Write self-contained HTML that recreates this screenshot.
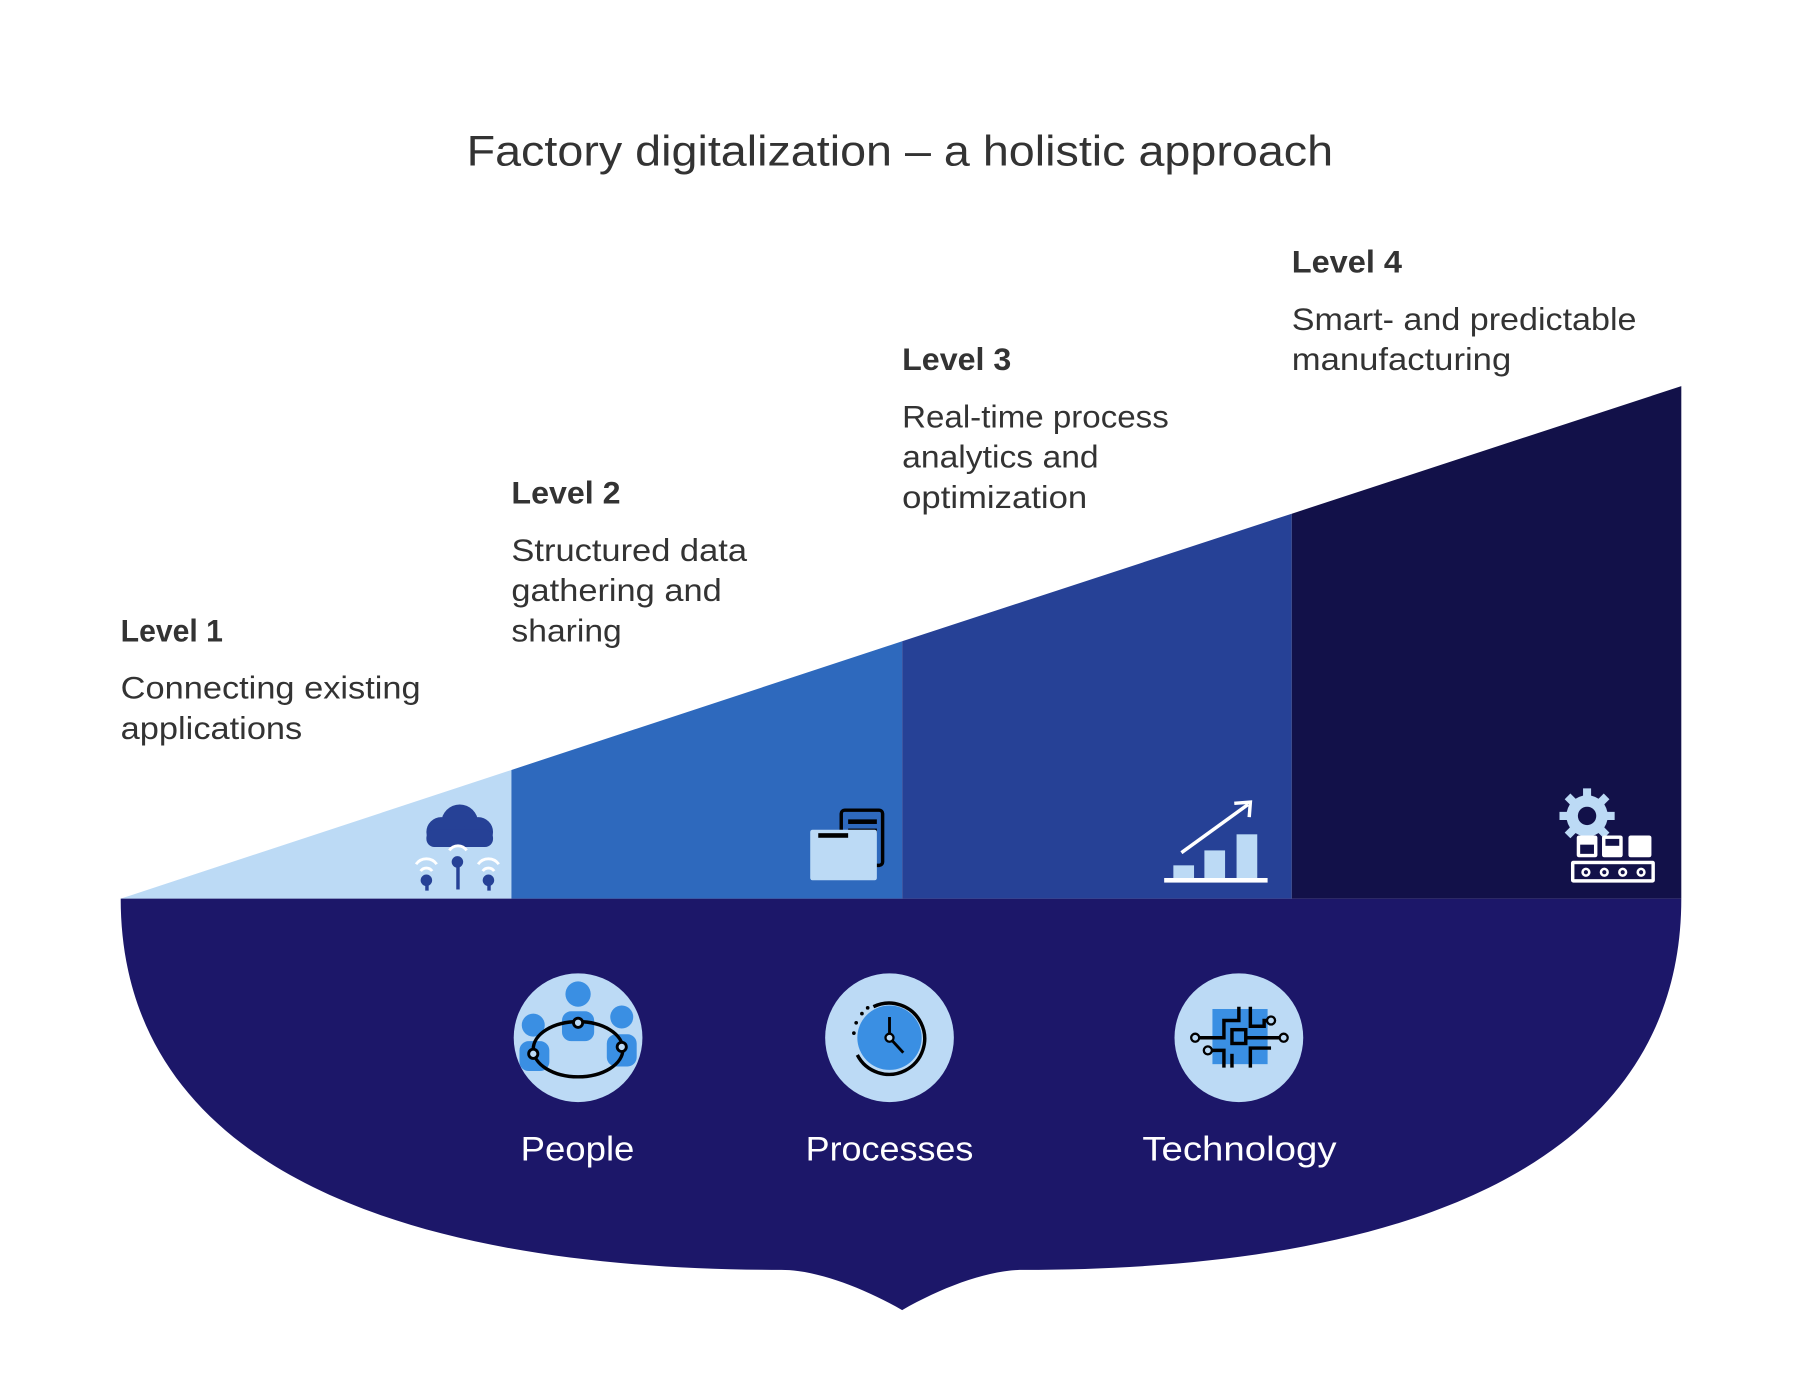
<!DOCTYPE html>
<html><head><meta charset="utf-8"><style>
html,body{margin:0;padding:0;background:#fff;width:1802px;height:1398px;overflow:hidden}
svg{display:block}
text{font-family:"Liberation Sans",sans-serif}
</style></head><body>
<svg width="1802" height="1398" viewBox="0 0 1568 1216.5" xmlns="http://www.w3.org/2000/svg">
<text x="406" y="144" font-size="37" fill="#333" textLength="754" lengthAdjust="spacingAndGlyphs">Factory digitalization – a holistic approach</text>

<polygon points="105,782 445,670 445,782" fill="#bcdaf5"/>
<polygon points="445,670 785,558 785,782 445,782" fill="#2e69bd"/>
<polygon points="785,558 1124,447 1124,782 785,782" fill="#264196"/>
<polygon points="1124,447 1463,336 1463,782 1124,782" fill="#121149"/>

<path d="M105 782 H1463 C1463 1000 1250 1105 890 1105 C860 1105 820 1120 785 1140 C750 1120 710 1105 680 1105 C320 1105 105 1000 105 782 Z" fill="#1c1769"/>

<g fill="#333" font-size="27">
<text x="105" y="558" font-weight="bold" textLength="89" lengthAdjust="spacingAndGlyphs">Level 1</text>
<text x="105" y="608" textLength="261" lengthAdjust="spacingAndGlyphs">Connecting existing</text>
<text x="105" y="643" textLength="158" lengthAdjust="spacingAndGlyphs">applications</text>
<text x="445" y="438" font-weight="bold" textLength="95" lengthAdjust="spacingAndGlyphs">Level 2</text>
<text x="445" y="488" textLength="205" lengthAdjust="spacingAndGlyphs">Structured data</text>
<text x="445" y="523" textLength="183" lengthAdjust="spacingAndGlyphs">gathering and</text>
<text x="445" y="558" textLength="96" lengthAdjust="spacingAndGlyphs">sharing</text>
<text x="785" y="322" font-weight="bold" textLength="95" lengthAdjust="spacingAndGlyphs">Level 3</text>
<text x="785" y="372" textLength="232" lengthAdjust="spacingAndGlyphs">Real-time process</text>
<text x="785" y="407" textLength="171" lengthAdjust="spacingAndGlyphs">analytics and</text>
<text x="785" y="442" textLength="161" lengthAdjust="spacingAndGlyphs">optimization</text>
<text x="1124" y="237" font-weight="bold" textLength="96" lengthAdjust="spacingAndGlyphs">Level 4</text>
<text x="1124" y="287" textLength="300" lengthAdjust="spacingAndGlyphs">Smart- and predictable</text>
<text x="1124" y="322" textLength="191" lengthAdjust="spacingAndGlyphs">manufacturing</text>
</g>

<!-- icon 1 cloud -->
<g fill="#264196">
<circle cx="400" cy="716" r="16"/><circle cx="384" cy="724" r="13"/><circle cx="416" cy="724" r="13"/>
<rect x="371" y="722" width="58" height="15" rx="7"/>
<rect x="397" y="748" width="3" height="26"/><circle cx="398" cy="750" r="5"/>
<rect x="370" y="765" width="3" height="10"/><circle cx="371" cy="766" r="5"/>
<rect x="424" y="765" width="3" height="10"/><circle cx="425" cy="766" r="5"/>
</g>
<g fill="none" stroke="#fff" stroke-width="2.5">
<path d="M391 740 a9 9 0 0 1 15 0"/><path d="M362 752 a11 11 0 0 1 18 0"/><path d="M366 758 a6 6 0 0 1 10 0"/>
<path d="M416 752 a11 11 0 0 1 18 0"/><path d="M420 758 a6 6 0 0 1 10 0"/>
</g>
<!-- icon 2 folder -->
<rect x="732" y="705" width="36" height="48" rx="3" fill="#2e69bd" stroke="#000" stroke-width="3"/>
<rect x="738" y="713" width="25" height="4" fill="#000"/><rect x="738" y="721" width="25" height="4" fill="#000"/>
<rect x="705" y="722" width="58" height="44" rx="2" fill="#bcdaf5"/>
<rect x="712" y="725" width="26" height="4" fill="#000"/>
<!-- icon 3 chart -->
<g fill="#bcdaf5">
<rect x="1021" y="753" width="18" height="13"/><rect x="1048" y="740" width="18" height="26"/><rect x="1076" y="726" width="18" height="40"/>
</g>
<rect x="1013" y="764" width="90" height="4" fill="#fff"/>
<line x1="1028" y1="742" x2="1086" y2="700" stroke="#fff" stroke-width="3"/>
<polyline points="1074,699 1088,698 1087,711" fill="none" stroke="#fff" stroke-width="3"/>
<!-- icon 4 gear + conveyor -->
<circle cx="1381" cy="710" r="18" fill="#bcdaf5"/>
<g stroke="#bcdaf5" stroke-width="7">
<line x1="1381" y1="686" x2="1381" y2="734"/><line x1="1357" y1="710" x2="1405" y2="710"/>
<line x1="1364" y1="693" x2="1398" y2="727"/><line x1="1398" y1="693" x2="1364" y2="727"/>
</g>
<circle cx="1381" cy="710" r="8" fill="#121149"/>
<rect x="1372" y="727" width="18" height="19" rx="2" fill="#fff"/><rect x="1375" y="735" width="12" height="8" fill="#121149"/>
<rect x="1394" y="727" width="18" height="19" rx="2" fill="#fff"/><rect x="1397" y="730" width="12" height="6" fill="#121149"/>
<rect x="1417" y="727" width="20" height="19" rx="2" fill="#fff"/>
<rect x="1367" y="749" width="73" height="19" rx="2" fill="#fff"/>
<rect x="1370" y="752" width="67" height="13" fill="#121149"/>
<g fill="#fff"><circle cx="1380" cy="759" r="4"/><circle cx="1396" cy="759" r="4"/><circle cx="1412" cy="759" r="4"/><circle cx="1428" cy="759" r="4"/></g>
<g fill="#121149"><circle cx="1380" cy="759" r="1.8"/><circle cx="1396" cy="759" r="1.8"/><circle cx="1412" cy="759" r="1.8"/><circle cx="1428" cy="759" r="1.8"/></g>

<!-- circles -->
<circle cx="503" cy="903" r="56" fill="#bcdaf5"/>
<circle cx="774" cy="903" r="56" fill="#bcdaf5"/>
<circle cx="1078" cy="903" r="56" fill="#bcdaf5"/>
<!-- people -->
<g fill="#3a8fe3">
<circle cx="503" cy="865" r="11"/><rect x="489" y="880" width="28" height="26" rx="8"/>
<circle cx="464" cy="892" r="10"/><rect x="452" y="906" width="26" height="26" rx="8"/>
<circle cx="541" cy="885" r="10"/><rect x="528" y="900" width="26" height="28" rx="8"/>
</g>
<ellipse cx="503" cy="913" rx="39" ry="24" fill="none" stroke="#000" stroke-width="3"/>
<g fill="#bcdaf5" stroke="#000" stroke-width="2.5"><circle cx="503" cy="890" r="4"/><circle cx="464" cy="917" r="4"/><circle cx="541" cy="911" r="4"/></g>
<!-- clock -->
<circle cx="774" cy="903" r="28" fill="#3a8fe3"/>
<path d="M760 876 A31 31 0 1 1 746 918" fill="none" stroke="#000" stroke-width="3"/>
<g fill="#000"><circle cx="750" cy="882" r="1.6"/><circle cx="745" cy="890" r="1.6"/><circle cx="743" cy="899" r="1.6"/><circle cx="755" cy="877" r="1.6"/></g>
<line x1="774" y1="885" x2="774" y2="903" stroke="#000" stroke-width="2.5"/>
<line x1="774" y1="903" x2="786" y2="916" stroke="#000" stroke-width="2.5"/>
<circle cx="774" cy="903" r="3.5" fill="#bcdaf5" stroke="#000" stroke-width="2"/>
<!-- chip -->
<rect x="1055" y="878" width="48" height="48" fill="#3a8fe3"/>
<g fill="none" stroke="#000" stroke-width="3">
<rect x="1072" y="896" width="12" height="12"/>
<polyline points="1041,903 1065,903 1065,888 1078,888 1078,876"/>
<polyline points="1052,914 1065,914 1065,929"/>
<polyline points="1072,929 1072,917"/>
<polyline points="1088,876 1088,893 1100,893 1100,888 1106,888"/>
<polyline points="1084,903 1116,903"/>
<polyline points="1088,929 1088,912 1106,912"/>
</g>
<g fill="#bcdaf5" stroke="#000" stroke-width="2"><circle cx="1040" cy="903" r="3.5"/><circle cx="1051" cy="914" r="3.5"/><circle cx="1106" cy="888" r="3.5"/><circle cx="1117" cy="903" r="3.5"/></g>

<g fill="#fff" font-size="30">
<text x="453" y="1010" textLength="99" lengthAdjust="spacingAndGlyphs">People</text>
<text x="701" y="1010" textLength="146" lengthAdjust="spacingAndGlyphs">Processes</text>
<text x="994" y="1010" textLength="169" lengthAdjust="spacingAndGlyphs">Technology</text>
</g>
</svg>
</body></html>
